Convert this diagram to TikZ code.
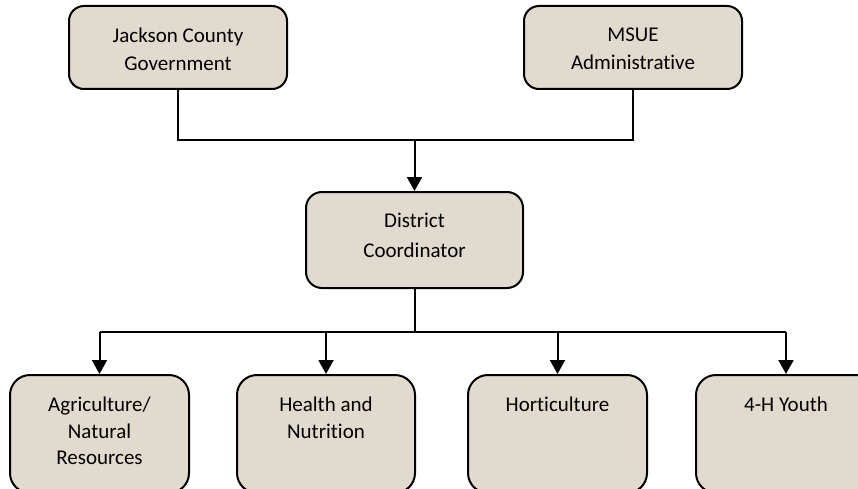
\documentclass[tikz,border=0pt]{standalone}
\usepackage{fontspec}
\setmainfont{Carlito}[RawFeature={-liga;-clig;-calt;-dlig}]
\usetikzlibrary{arrows.meta}
\definecolor{boxfill}{RGB}{225,218,206}
\tikzset{
  orgbox/.style={draw=black, line width=2pt, fill=boxfill, rounded corners=#1, inner sep=0pt},
  orgtext/.style={anchor=north, align=center, inner sep=0pt, text=black, font=\fontsize{21}{#1}\selectfont},
  conn/.style={line width=2pt, draw=black},
  arr/.style={conn, -{Triangle[width=15pt,length=14pt]}}
}
\begin{document}
\begin{tikzpicture}[x=1pt,y=-1pt]
\useasboundingbox (0,0) rectangle (858,489);
\clip (0,0) rectangle (858,489);
% top boxes
\node[orgbox=15pt, minimum width=218pt, minimum height=83pt] (jc) at (178,47.5) {};
\node[orgbox=15pt, minimum width=218pt, minimum height=83pt] (ms) at (633,47.5) {};
\node[orgbox=16pt, minimum width=217pt, minimum height=96pt] (dc) at (414.5,240) {};
% bottom boxes
\node[orgbox=20pt, minimum width=179pt, minimum height=118pt] (ag) at (99.5,434) {};
\node[orgbox=20pt, minimum width=178pt, minimum height=118pt] (hn) at (326,434) {};
\node[orgbox=20pt, minimum width=179pt, minimum height=118pt] (ho) at (557.5,434) {};
\node[orgbox=20pt, minimum width=180pt, minimum height=118pt] (yo) at (786,434) {};
% texts
\node[orgtext=28.5pt] (jct) at ([yshift=-22.5pt]jc.north) {Jackson County\\Government};
\node[orgtext=28.5pt] (mst) at ([yshift=-22.5pt]ms.north) {MSUE\\Administrative};
\node[orgtext=30pt] (dct) at ([yshift=-22pt]dc.north) {District\\Coordinator};
\node[orgtext=26.5pt] (agt) at ([yshift=-23pt]ag.north) {Agriculture/\\Natural\\Resources};
\node[orgtext=26.5pt] (hnt) at ([yshift=-23pt]hn.north) {Health and\\Nutrition};
\node[orgtext=26.5pt] (hot) at ([yshift=-23pt]ho.north) {Horticulture};
\node[orgtext=26.5pt] (yot) at ([yshift=-23pt]yo.north) {4-H Youth};
% connectors top
\coordinate (jbend) at (jc.south |- 0,140);
\coordinate (mbend) at (ms.south |- 0,140);
\coordinate (mid) at (dc.north |- 0,140);
\draw[conn] (jc.south) -- (jbend) -- (mbend) -- (ms.south);
\draw[arr] (mid) -- (dc.north);
% connectors bottom
\coordinate (bar) at (dc.south |- 0,332);
\coordinate (b1) at (ag.north |- 0,332);
\coordinate (b2) at (hn.north |- 0,332);
\coordinate (b3) at (ho.north |- 0,332);
\coordinate (b4) at (yo.north |- 0,332);
\draw[conn] (dc.south) -- (bar);
\draw[conn] (b1) -- (b4);
\draw[arr] (b1) -- (ag.north);
\draw[arr] (b2) -- (hn.north);
\draw[arr] (b3) -- (ho.north);
\draw[arr] (b4) -- (yo.north);
\end{tikzpicture}
\end{document}
